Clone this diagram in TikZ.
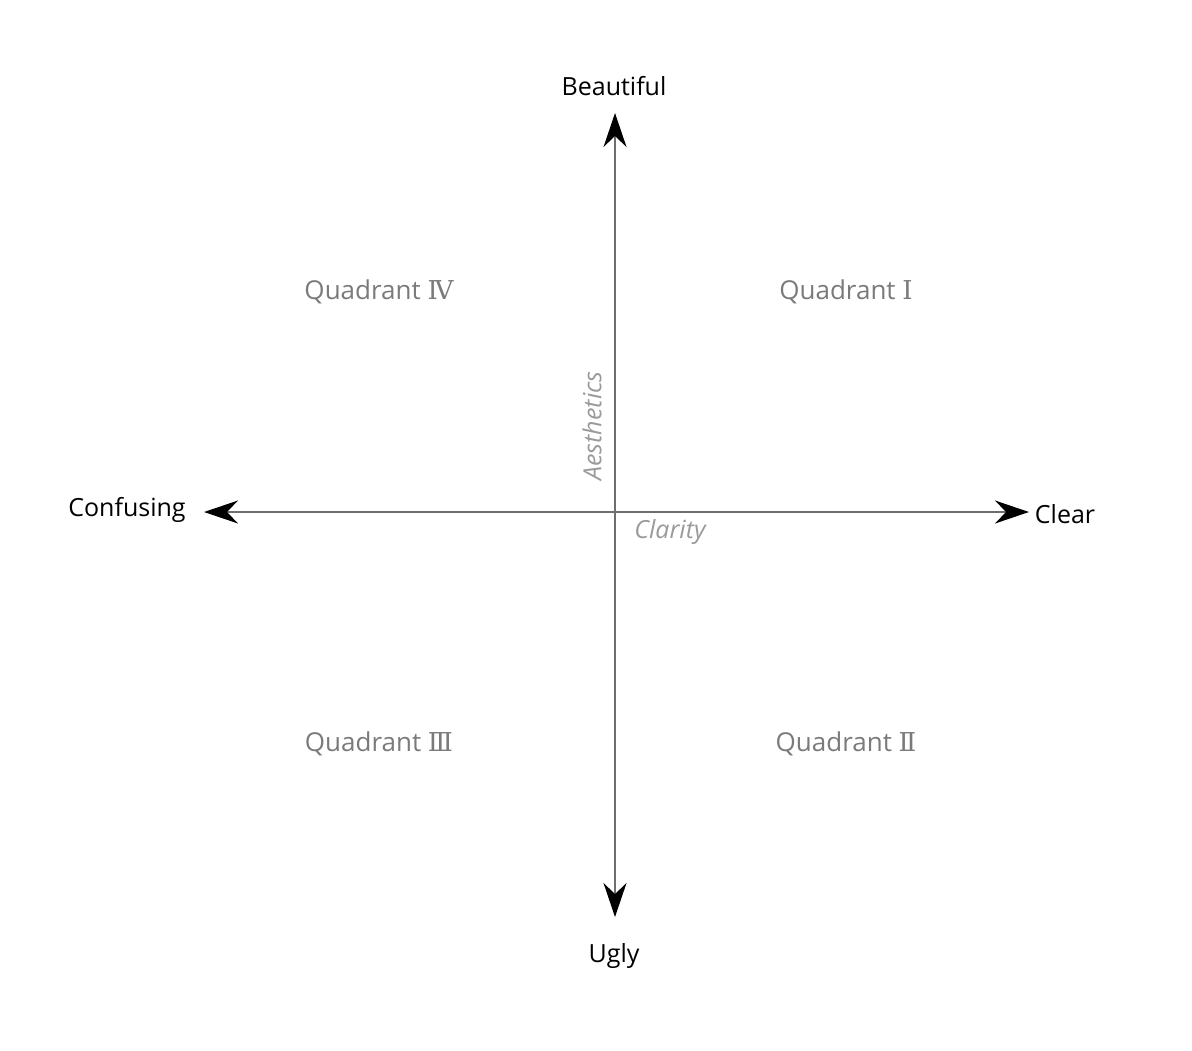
\documentclass[tikz,border=0pt]{standalone}
\usepackage{fontspec}
\setmainfont{Open Sans}
\newfontfamily\numfont{DejaVu Serif}
\usetikzlibrary{arrows.meta}
\definecolor{axisgray}{HTML}{6E6E6E}
\definecolor{quadgray}{HTML}{7A7A7A}
\definecolor{namegray}{HTML}{9A9A9A}
\tikzset{
  axisline/.style={draw=axisgray, line width=0.75pt, -{Stealth[length=17pt,width=11.5pt,inset=5.5pt,color=black]}},
  endlabel/.style={font=\fontsize{12.5}{15}\selectfont, text=black, inner sep=0pt},
  quadlabel/.style={font=\fontsize{13}{15}\selectfont, text=quadgray, inner sep=0pt},
  namelabel/.style={font=\fontsize{12.5}{15}\selectfont\itshape, text=namegray, inner sep=0pt},
}
\begin{document}
\begin{tikzpicture}[x=0.5pt,y=-0.5pt]
\useasboundingbox (0,0) rectangle (1192,1050);
\coordinate (o) at (615,512);
\coordinate (top) at (615,113);
\coordinate (bot) at (615,917);
\coordinate (left) at (204,512);
\coordinate (right) at (1029,512);
\draw[axisline] (o) -- (top);
\draw[axisline] (o) -- (bot);
\draw[axisline] (o) -- (left);
\draw[axisline] (o) -- (right);
\node[endlabel] (beautiful) at (614,86) {Beautiful};
\node[endlabel] (ugly) at (614,956) {Ugly};
\node[endlabel] (confusing) at (127,510) {Confusing};
\node[endlabel] (clear) at (1065,514) {Clear};
\node[quadlabel] (q4) at (379,292) {Quadrant {\numfont Ⅳ}};
\node[quadlabel] (q1) at (846,292) {Quadrant {\numfont Ⅰ}};
\node[quadlabel] (q3) at (379,744) {Quadrant {\numfont Ⅲ}};
\node[quadlabel] (q2) at (846,744) {Quadrant {\numfont Ⅱ}};
\node[namelabel, rotate=90] (aesthetics) at (592,426) {Aesthetics};
\node[namelabel] (clarity) at (670,532) {Clarity};
\end{tikzpicture}
\end{document}
